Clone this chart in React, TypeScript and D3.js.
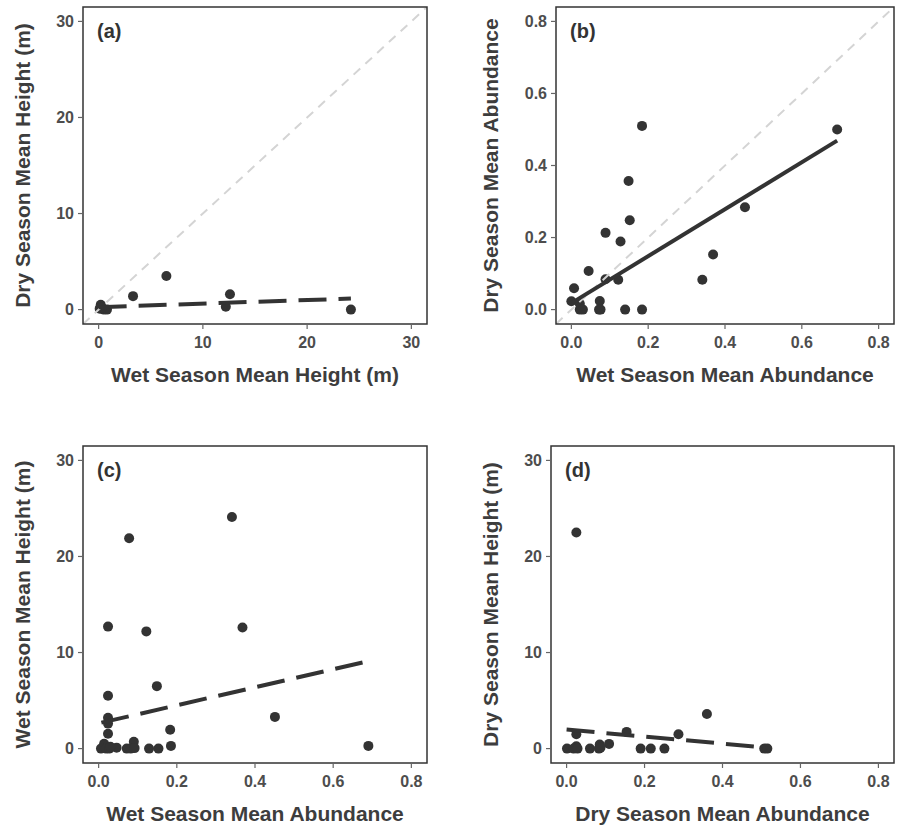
import React from "react";
import * as d3 from "d3";

// panel (a): wet vs dry season mean height
const aWetHeight = [0.2, 0.1, 0.5, 0.8, 0.3, 3.3, 6.5, 12.2, 12.6, 24.2];
const aDryHeight = [0.5, 0.1, 0.0, 0.0, 0.2, 1.4, 3.5, 0.3, 1.6, 0.0];
const aFitX = [0, 24.2];
const aFitY = [0.25, 1.15];

// panel (b): wet vs dry season mean abundance
const bWetAbund = [0.184, 0.692, 0.149, 0.152, 0.452, 0.089, 0.128, 0.369, 0.045, 0.089, 0.122, 0.341, 0.007, 0.0, 0.022, 0.022, 0.074, 0.072, 0.076, 0.14, 0.184, 0.03];
const bDryAbund = [0.51, 0.5, 0.357, 0.248, 0.284, 0.213, 0.189, 0.153, 0.107, 0.084, 0.083, 0.083, 0.059, 0.023, 0.016, 0.0, 0.024, 0.0, 0.0, 0.0, 0.0, 0.0];
const bFitX = [0, 0.692];
const bFitY = [0.018, 0.469];

// panel (c): wet season abundance vs height
const cWetAbund = [0.341, 0.078, 0.024, 0.368, 0.122, 0.149, 0.024, 0.451, 0.024, 0.024, 0.024, 0.183, 0.69, 0.185, 0.09, 0.014, 0.006, 0.019, 0.027, 0.046, 0.072, 0.082, 0.092, 0.129, 0.153, 0.03];
const cWetHeight = [24.1, 21.9, 12.7, 12.6, 12.2, 6.5, 5.5, 3.3, 3.2, 2.6, 1.55, 1.97, 0.28, 0.28, 0.7, 0.5, 0, 0, 0, 0.1, 0, 0, 0.05, 0, 0, 0.2];
const cFitX = [0.007, 0.69];
const cFitY = [2.7, 9.1];

// panel (d): dry season abundance vs height
const dDryAbund = [0.025, 0.36, 0.287, 0.154, 0.025, 0.109, 0.085, 0.025, 0.001, 0.018, 0.028, 0.06, 0.083, 0.087, 0.19, 0.216, 0.251, 0.507, 0.515];
const dDryHeight = [22.5, 3.6, 1.5, 1.74, 1.5, 0.49, 0.42, 0.24, 0, 0, 0, 0, 0, 0.1, 0, 0, 0, 0, 0];
const dFitX = [0.0, 0.515];
const dFitY = [1.98, 0.1];

const heightTicks = [0, 10, 20, 30];
const abundTicks = [0, 0.2, 0.4, 0.6, 0.8];

const FONT = "'Liberation Sans', Arial, Helvetica, sans-serif";
const INK = "#333333";

function Panel({ box, xDom, yDom, xTicks, yTicks, xFmt, yFmt, xs, ys, fitX, fitY, dashed, diagonal, label, xTitle, yTitle, yTitleX }) {
  const x = d3.scaleLinear().domain(xDom).range([box.left, box.right]);
  const y = d3.scaleLinear().domain(yDom).range([box.bottom, box.top]);
  const line = d3.line().x((d) => x(d[0])).y((d) => y(d[1]));
  const fit = line(fitX.map((v, i) => [v, fitY[i]]));
  const cx = (box.left + box.right) / 2;
  const cy = (box.top + box.bottom) / 2;
  return (
    <g>
      <defs>
        <clipPath id={"clip" + label}>
          <rect x={box.left} y={box.top} width={box.right - box.left} height={box.bottom - box.top} />
        </clipPath>
      </defs>
      <g clipPath={`url(#clip${label})`}>
        {xs.map((v, i) => (
          <circle key={i} cx={x(v)} cy={y(ys[i])} r={5} fill={INK} />
        ))}
        {diagonal && (
          <line x1={x(xDom[0])} y1={y(xDom[0])} x2={x(xDom[1])} y2={y(xDom[1])}
            stroke="#d4d4d4" strokeWidth={2} strokeDasharray="9,7" />
        )}
        <path d={fit} fill="none" stroke={INK} strokeWidth={4}
          strokeDasharray={dashed ? "28,12" : undefined} />
      </g>
      <rect x={box.left} y={box.top} width={box.right - box.left} height={box.bottom - box.top}
        fill="none" stroke="#333" strokeWidth={1.5} />
      {xTicks.map((t) => (
        <g key={"x" + t}>
          <line x1={x(t)} x2={x(t)} y1={box.bottom} y2={box.bottom + 5} stroke="#666" strokeWidth={1.2} />
          <text x={x(t)} y={box.bottom + 24} textAnchor="middle" fontSize={16} fontWeight="bold" fill="#4d4d4d">{xFmt(t)}</text>
        </g>
      ))}
      {yTicks.map((t) => (
        <g key={"y" + t}>
          <line x1={box.left - 5} x2={box.left} y1={y(t)} y2={y(t)} stroke="#666" strokeWidth={1.2} />
          <text x={box.left - 9} y={y(t)} dy="0.36em" textAnchor="end" fontSize={16} fontWeight="bold" fill="#4d4d4d">{yFmt(t)}</text>
        </g>
      ))}
      <text x={box.left + 14} y={box.top + 31} fontSize={20} fontWeight="bold" fill={INK}>({label})</text>
      <text x={cx} y={box.bottom + 58} textAnchor="middle" fontSize={21} fontWeight="bold" fill="#3d3d3d">{xTitle}</text>
      <text x={yTitleX} y={cy} transform={`rotate(-90, ${yTitleX}, ${cy})`} textAnchor="middle" fontSize={21} fontWeight="bold" fill="#3d3d3d">{yTitle}</text>
    </g>
  );
}

export default function App() {
  const intFmt = d3.format("d");
  const decFmt = d3.format(".1f");
  const hDom = [-1.5, 31.5];
  const aDom = [-0.04, 0.84];
  return (
    <svg width={904} height={830} style={{ position: "absolute", left: 0, top: 0, background: "#fff", fontFamily: FONT }}>
      <rect width={904} height={830} fill="#fff" />
      <Panel box={{ left: 83, right: 427, top: 7, bottom: 324 }} xDom={hDom} yDom={hDom}
        xTicks={heightTicks} yTicks={heightTicks} xFmt={intFmt} yFmt={intFmt}
        xs={aWetHeight} ys={aDryHeight} fitX={aFitX} fitY={aFitY} dashed diagonal label="a"
        xTitle="Wet Season Mean Height (m)" yTitle="Dry Season Mean Height (m)" yTitleX={30} />
      <Panel box={{ left: 556, right: 894, top: 7, bottom: 324 }} xDom={aDom} yDom={aDom}
        xTicks={abundTicks} yTicks={abundTicks} xFmt={decFmt} yFmt={decFmt}
        xs={bWetAbund} ys={bDryAbund} fitX={bFitX} fitY={bFitY} dashed={false} diagonal label="b"
        xTitle="Wet Season Mean Abundance" yTitle="Dry Season Mean Abundance" yTitleX={498} />
      <Panel box={{ left: 83, right: 427, top: 446, bottom: 763 }} xDom={aDom} yDom={hDom}
        xTicks={abundTicks} yTicks={heightTicks} xFmt={decFmt} yFmt={intFmt}
        xs={cWetAbund} ys={cWetHeight} fitX={cFitX} fitY={cFitY} dashed diagonal={false} label="c"
        xTitle="Wet Season Mean Abundance" yTitle="Wet Season Mean Height (m)" yTitleX={30} />
      <Panel box={{ left: 551, right: 894, top: 446, bottom: 763 }} xDom={aDom} yDom={hDom}
        xTicks={abundTicks} yTicks={heightTicks} xFmt={decFmt} yFmt={intFmt}
        xs={dDryAbund} ys={dDryHeight} fitX={dFitX} fitY={dFitY} dashed diagonal={false} label="d"
        xTitle="Dry Season Mean Abundance" yTitle="Dry Season Mean Height (m)" yTitleX={498} />
    </svg>
  );
}
